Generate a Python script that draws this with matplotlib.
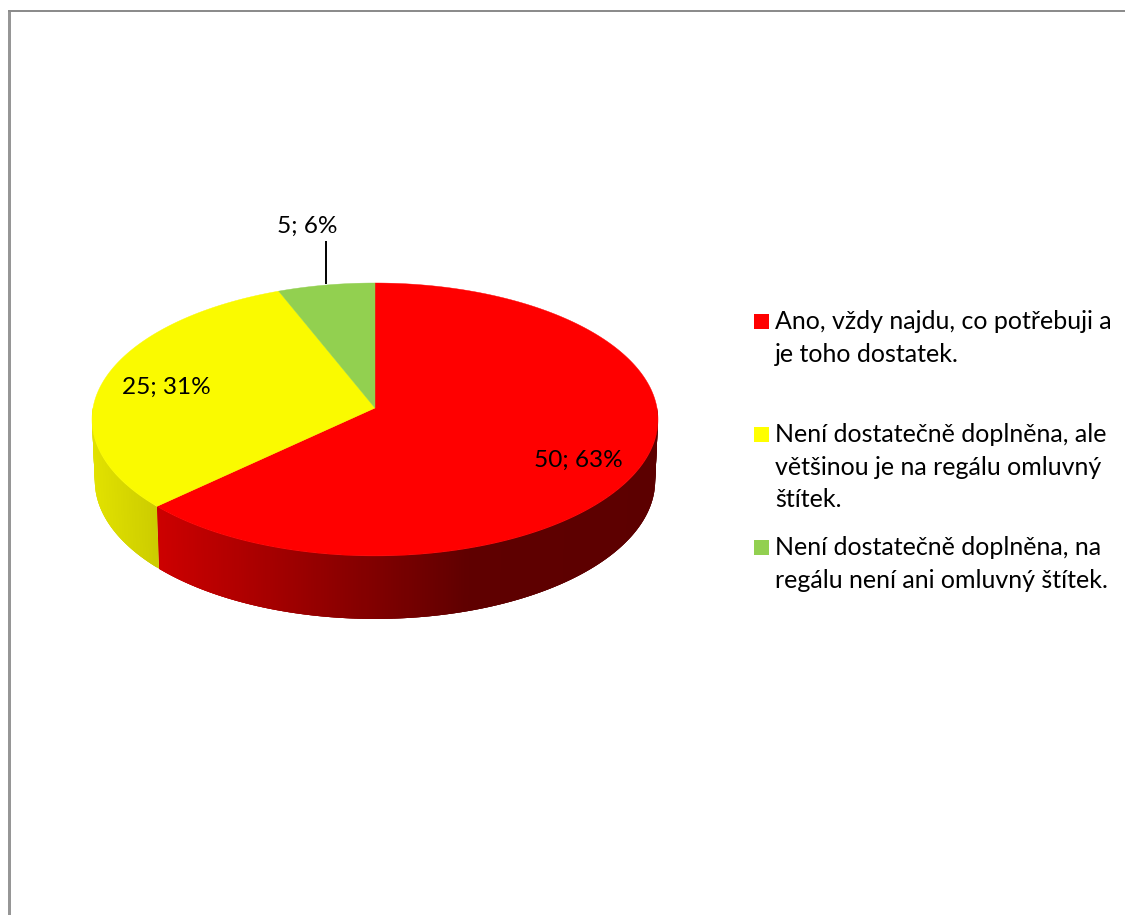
import numpy as np
import matplotlib
matplotlib.use("Agg")
import matplotlib.pyplot as plt
from matplotlib.patches import Polygon, Rectangle

plt.rcParams['font.family'] = ['Lato', 'DejaVu Sans']

# answers to the survey question, clockwise from 12 o'clock
values = [50, 25, 5]
legend_labels = [
    "Ano, vždy najdu, co potřebuji a\nje toho dostatek.",
    "Není dostatečně doplněna, ale\nvětšinou je na regálu omluvný\nštítek.",
    "Není dostatečně doplněna, na\nregálu není ani omluvný štítek.",
]
colors = ["#ff0000", "#fafa00", "#92d050"]
legend_colors = ["#ff0000", "#ffff00", "#92d050"]

# pie geometry in pixels
CX, CY = 375, 408
RX, RY = 282, 135.5
PERSP = 0.084
DEPTH = 61
# the 3D view turns the inner slice borders a little (degrees)
SKEW = [1.8, 0.9]


def rim(theta):
    # theta in degrees, clockwise from the top, with a little perspective
    t = np.radians(theta)
    d = 1 + PERSP * np.cos(t)
    return CX + RX * np.sin(t) / d, CY - RY * np.cos(t) / d


def rim_low(theta):
    # lower edge of the side wall
    x, y = rim(theta)
    return CX + (x - CX) * 0.99, y + DEPTH - 2 * np.cos(np.radians(theta))


def side_color(i, x):
    # shading of the wall depends on the horizontal position
    if i == 0:
        r = np.interp(x, [157, 370, 470, 660], [205, 130, 95, 92])
        return (r / 255, 0, 0)
    g = np.interp(x, [92, 157], [226, 204])
    return (g / 255, g / 255, 0)


fig = plt.figure(figsize=(11.25, 9.15), dpi=100)
ax = fig.add_axes([0, 0, 1, 1])
ax.set_xlim(0, 1125)
ax.set_ylim(915, 0)
ax.axis("off")

# frame of the chart area, cut off on the right and at the bottom
ax.add_patch(Rectangle((8, 10), 3, 905, fc="#969696", ec="none"))
ax.add_patch(Rectangle((8, 10), 1117, 2, fc="#8c8c8c", ec="none"))

total = sum(values)
edges = np.concatenate([[0], np.cumsum(values) / total * 360])
edges[1:-1] += SKEW

# side wall: only the part facing the viewer is visible
for i in range(len(values)):
    start = max(edges[i], 90)
    stop = min(edges[i + 1], 270)
    if stop <= start:
        continue
    steps = np.append(np.arange(start, stop, 0.5), stop)
    for a, b in zip(steps[:-1], steps[1:]):
        # each strip runs under the next one so no seams show
        b2 = min(b + 1.0, stop)
        xa, ya = rim(a)
        xb, yb = rim(b2)
        xc, yc = rim_low(b2)
        xd, yd = rim_low(a)
        c = side_color(i, (xa + rim(b)[0]) / 2)
        ax.add_patch(Polygon([(xa, ya), (xb, yb), (xc, yc), (xd, yd)],
                             closed=True, fc=c, ec="none"))

# top face
for i in range(len(values)):
    angles = np.linspace(edges[i], edges[i + 1], 300)
    xs, ys = rim(angles)
    pts = [(CX, CY)] + list(zip(xs, ys))
    ax.add_patch(Polygon(pts, closed=True, fc=colors[i], ec=colors[i], lw=0.3))

# data labels "count; percent"
label_pos = [(578, 460), (166, 387), (307, 226)]
for v, (x, y) in zip(values, label_pos):
    pct = int(v / total * 100 + 0.5)
    ax.text(x, y, f"{v}; {pct}%", fontsize=17.6, color="black",
            ha="center", va="center")

# leader line of the smallest slice
ax.plot([326, 326], [241, 284], color="black", lw=1.4, solid_capstyle="butt")

# legend
legend_y = [329, 442, 555]
for label, c, y in zip(legend_labels, legend_colors, legend_y):
    ax.add_patch(Rectangle((754, y - 15), 15, 15, fc=c, ec="none"))
    for n, line in enumerate(label.split("\n")):
        ax.text(775, y + n * 32.7, line, fontsize=18, color="black",
                ha="left", va="baseline")

fig.savefig("out.png", dpi=100)
